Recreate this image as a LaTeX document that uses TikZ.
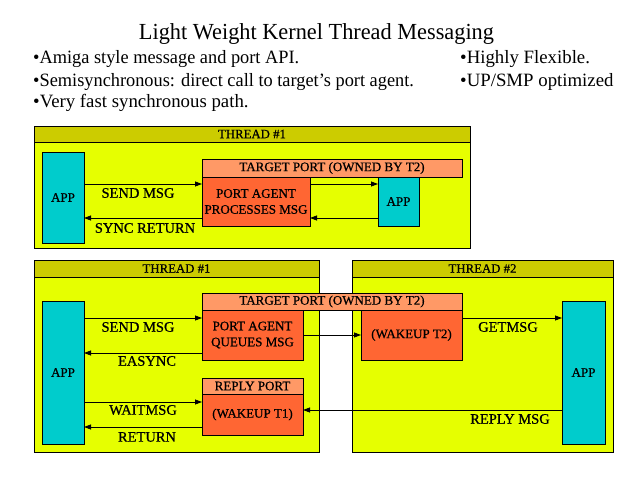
\documentclass[tikz,border=0pt]{standalone}
\usepackage{fontspec}
\setmainfont{Liberation Serif}
\newfontfamily\titlefont[FakeStretch=0.97]{Liberation Serif}
\newfontfamily\lblfont[FakeBold=0.7]{Liberation Serif}
\usetikzlibrary{arrows.meta}
\definecolor{panelbody}{RGB}{230,255,0}
\definecolor{headercol}{RGB}{204,204,0}
\definecolor{appcol}{RGB}{0,204,204}
\definecolor{agentcol}{RGB}{255,102,51}
\definecolor{portcol}{RGB}{255,153,102}
\begin{document}
\begin{tikzpicture}[x=1pt,y=-1pt,
  box/.style={draw=black, line width=0.8pt, anchor=north west, inner sep=0pt, outer sep=0pt, align=center},
  panel/.style={box, fill=panelbody},
  header/.style={box, fill=headercol, font=\lblfont\fontsize{12.8}{13}\selectfont},
  app/.style={box, fill=appcol, font=\lblfont\fontsize{13}{15}\selectfont},
  agent/.style={box, fill=agentcol, font=\lblfont\fontsize{13}{16}\selectfont},
  porthead/.style={box, fill=portcol, font=\lblfont\fontsize{13}{13}\selectfont},
  lbl/.style={inner sep=0pt, font=\lblfont\fontsize{14.5}{15}\selectfont},
  bullet/.style={anchor=base west, inner sep=0pt, font=\fontsize{18.8}{20}\selectfont},
  arr/.style={-{Triangle[length=7pt,width=5pt]}, line width=0.8pt}]
\useasboundingbox (0,0) rectangle (640,477);
\fill[white] (0,0) rectangle (640,477);

% title and bullets
\node[anchor=base, inner sep=0pt, font=\titlefont\fontsize{23}{25}\selectfont] (title) at (316.5,39) {Light Weight Kernel Thread Messaging};
\node[bullet] (b1) at (33,63) {\scalebox{0.975}[1]{•Amiga style message and port API.}};
\node[bullet] (b2) at (33,86) {\scalebox{0.975}[1]{•Semisynchronous: direct call to target's port agent.}};
\node[bullet] (b3) at (33,107) {•Very fast synchronous path.};
\node[bullet] (b4) at (460,63) {•Highly Flexible.};
\node[bullet] (b5) at (460,86) {•UP/SMP optimized};

% top panel
\node[panel, minimum width=436, minimum height=122] (p1) at (34,126) {};
\node[header, minimum width=436, minimum height=16] (h1) at (34,126) {THREAD \#1};
\node[app, minimum width=42, minimum height=91] (a1) at (42,152) {APP};
\node[porthead, minimum width=260, minimum height=18] (tp1) at (202,159) {TARGET PORT (OWNED BY T2)};
\node[agent, minimum width=108, minimum height=49] (pa1) at (202,177) {PORT AGENT\\PROCESSES MSG};
\node[app, minimum width=41, minimum height=49] (a1b) at (378,177) {APP};
\draw[arr] (a1.east |- 0,184) -- (pa1.west |- 0,184);
\draw[arr] (pa1.west |- 0,218) -- (a1.east |- 0,218);
\draw[arr] (pa1.east |- 0,184) -- (a1b.west |- 0,184);
\draw[arr] (a1b.west |- 0,218) -- (pa1.east |- 0,218);
\node[lbl] (l1) at (138,193) {SEND MSG};
\node[lbl] (l2) at (145,228) {SYNC RETURN};

% lower panels
\node[panel, minimum width=285, minimum height=192] (p2) at (34,260) {};
\node[header, minimum width=285, minimum height=17] (h2) at (34,260) {THREAD \#1};
\node[panel, minimum width=261, minimum height=192] (p3) at (352,260) {};
\node[header, minimum width=261, minimum height=17] (h3) at (352,260) {THREAD \#2};
\node[app, minimum width=42, minimum height=143] (a2) at (42,301) {APP};
\node[app, minimum width=43, minimum height=143] (a3) at (562,301) {APP};
\node[porthead, minimum width=260, minimum height=17] (tp2) at (202,293) {TARGET PORT (OWNED BY T2)};
\node[agent, minimum width=101, minimum height=50] (pa2) at (202,310) {PORT AGENT\\QUEUES MSG};
\node[agent, minimum width=101, minimum height=50] (wk2) at (361,310) {(WAKEUP T2)};
\node[porthead, minimum width=101, minimum height=16] (rp) at (202,378) {REPLY PORT};
\node[agent, minimum width=101, minimum height=41] (wk1) at (202,394) {(WAKEUP T1)};

\draw[arr] (a2.east |- 0,318) -- (pa2.west |- 0,318);
\draw[arr] (pa2.west |- 0,353) -- (a2.east |- 0,353);
\draw[arr] (a2.east |- 0,402) -- (wk1.west |- 0,402);
\draw[arr] (wk1.west |- 0,427) -- (a2.east |- 0,427);
\draw[arr] (pa2.east |- 0,335) -- (wk2.west |- 0,335);
\draw[arr] (wk2.east |- 0,318) -- (a3.west |- 0,318);
\draw[arr] (a3.west |- 0,410) -- (wk1.east |- 0,410);
\node[lbl] (l3) at (138,327) {SEND MSG};
\node[lbl] (l4) at (147,361) {EASYNC};
\node[lbl] (l5) at (143,410) {WAITMSG};
\node[lbl] (l6) at (147,437) {RETURN};
\node[lbl] (l7) at (508,327) {GETMSG};
\node[lbl] (l8) at (510,419) {REPLY MSG};
\end{tikzpicture}
\end{document}
